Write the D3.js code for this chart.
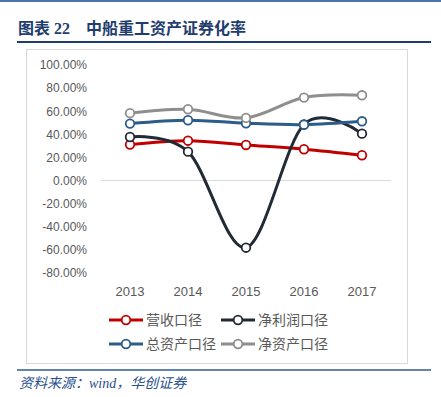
<!DOCTYPE html>
<html>
<head>
<meta charset="utf-8">
<script src="https://cdn.jsdelivr.net/npm/d3@7"></script>
<style>
  body { margin: 0; background: #fff; }
  svg { display: block; }
</style>
</head>
<body>
<div id="chart"></div>
<script>
const years = ["2013", "2014", "2015", "2016", "2017"];
const revenue = [31.1, 34.5, 30.8, 27.1, 21.9];        // 营收口径
const netProfit = [37.7, 25.0, -58.1, 48.5, 40.6];     // 净利润口径
const totalAssets = [49.3, 52.2, 49.6, 48.4, 51.3];    // 总资产口径
const netAssets = [58.3, 61.7, 54.2, 71.8, 73.8];      // 净资产口径
const yTicks = [100, 80, 60, 40, 20, 0, -20, -40, -60, -80];

const series = [
  {name: "营收口径", values: revenue, color: "#c00000"},
  {name: "净利润口径", values: netProfit, color: "#222a35"},
  {name: "总资产口径", values: totalAssets, color: "#2b5c8a"},
  {name: "净资产口径", values: netAssets, color: "#8e8e8e"}
];

const width = 441, height = 397;
const svg = d3.select("#chart").append("svg")
  .attr("width", width)
  .attr("height", height);

svg.append("rect").attr("width", width).attr("height", height).attr("fill", "#fff");

// top rule
svg.append("line")
  .attr("x1", 0).attr("x2", width).attr("y1", 1).attr("y2", 1)
  .attr("stroke", "#4a74a8").attr("stroke-width", 2);

// title
svg.append("text")
  .attr("x", 18).attr("y", 34)
  .attr("fill", "#1f3d6e")
  .attr("font-family", "'Liberation Serif', 'Noto Sans CJK SC', serif")
  .attr("font-weight", "bold")
  .attr("font-size", 16)
  .attr("xml:space", "preserve")
  .text("图表 22    中船重工资产证券化率");

svg.append("line")
  .attr("x1", 17).attr("x2", 431).attr("y1", 42).attr("y2", 42)
  .attr("stroke", "#1f3d6e").attr("stroke-width", 2);

// chart frame
svg.append("rect")
  .attr("x", 26.5).attr("y", 49.5).attr("width", 381).attr("height", 314)
  .attr("fill", "#fff").attr("stroke", "#d9d9d9").attr("stroke-width", 1);

const x = d3.scaleBand().domain(years).range([101, 391]);
const y = d3.scaleLinear().domain([-80, 100]).range([273, 65]);

// y axis labels
const yAxis = svg.append("g")
  .attr("transform", "translate(87,0)")
  .call(d3.axisLeft(y).tickValues(yTicks).tickSize(0).tickPadding(0)
    .tickFormat(d => d.toFixed(2) + "%"));
yAxis.select(".domain").remove();
yAxis.selectAll("text")
  .attr("fill", "#595959")
  .attr("font-family", "'Liberation Sans', Arial, sans-serif")
  .attr("font-size", 12);

// zero line
svg.append("line")
  .attr("x1", 101).attr("x2", 391).attr("y1", y(0)).attr("y2", y(0))
  .attr("stroke", "#d9d9d9").attr("stroke-width", 1);

// x axis labels
const xAxis = svg.append("g")
  .attr("transform", "translate(0,287)")
  .call(d3.axisBottom(x).tickSize(0).tickPadding(0));
xAxis.select(".domain").remove();
xAxis.selectAll("text")
  .attr("fill", "#595959")
  .attr("font-family", "'Liberation Sans', Arial, sans-serif")
  .attr("font-size", 13);

const cx = d => x(d) + x.bandwidth() / 2;
const line = d3.line()
  .x((d, i) => cx(years[i]))
  .y(d => y(d))
  .curve(d3.curveCardinal.tension(0));

series.forEach(s => {
  const g = svg.append("g");
  g.append("path")
    .datum(s.values)
    .attr("fill", "none")
    .attr("stroke", s.color)
    .attr("stroke-width", 3)
    .attr("stroke-linejoin", "round")
    .attr("d", line);
  g.selectAll("circle")
    .data(s.values)
    .join("circle")
    .attr("cx", (d, i) => cx(years[i]))
    .attr("cy", d => y(d))
    .attr("r", 4.3)
    .attr("fill", "#fff")
    .attr("stroke", s.color)
    .attr("stroke-width", 1.8);
});

// legend
const legendPos = [[109, 320], [221, 320], [109, 344], [221, 344]];
series.forEach((s, i) => {
  const [lx, ly] = legendPos[i];
  const g = svg.append("g").attr("transform", "translate(" + lx + "," + ly + ")");
  g.append("line")
    .attr("x1", 0).attr("x2", 34).attr("y1", 0).attr("y2", 0)
    .attr("stroke", s.color).attr("stroke-width", 3);
  g.append("circle")
    .attr("cx", 17).attr("cy", 0).attr("r", 4.3)
    .attr("fill", "#fff").attr("stroke", s.color).attr("stroke-width", 1.8);
  g.append("text")
    .attr("x", 37).attr("y", 5)
    .attr("fill", "#595959")
    .attr("font-family", "'Noto Sans CJK SC', sans-serif")
    .attr("font-size", 14)
    .text(s.name);
});

// footer
svg.append("line")
  .attr("x1", 17).attr("x2", 431).attr("y1", 370).attr("y2", 370)
  .attr("stroke", "#2e5c96").attr("stroke-width", 1.5);

svg.append("text")
  .attr("x", 19).attr("y", 388)
  .attr("fill", "#2a4f8f")
  .attr("font-family", "'Liberation Serif', 'Noto Sans CJK SC', serif")
  .attr("font-style", "italic")
  .attr("font-size", 14)
  .text("资料来源：wind，华创证券");
</script>
</body>
</html>
